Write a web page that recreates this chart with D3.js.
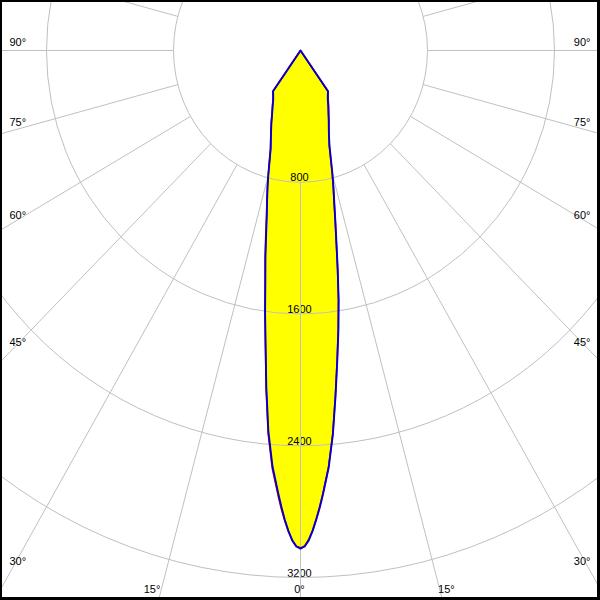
<!DOCTYPE html>
<html>
<head>
<meta charset="utf-8">
<script src="https://cdn.jsdelivr.net/npm/d3@7/dist/d3.min.js"></script>
<style>
html,body{margin:0;padding:0;background:#fff;}
svg{display:block;}
</style>
</head>
<body>
<script>
// ---- data (luminous intensity, cd) ----
const angles = [0,0.5,1,1.5,2,2.5,3,4,5,6,7,8,9,10,11,12,13,14,15,17.5,20,22.5,25,27.5,30,32.5,35,37.5,45,60,75,90,105,120,135,150,165,180];
// C0-C180 plane (blue): right half = C0, left half = C180
const c0   = [3025,3012,2975,2918,2850,2778,2700,2540,2340,2110,1900,1715,1535,1350,1185,1055,945,858,778,606,522,465,416,378,344,320,302,0,0,0,0,0,0,0,0,0,0,0];
const c180 = [3025,3012,2975,2918,2850,2772,2690,2531,2322,2060,1805,1603,1416,1272,1134,1020,936,859,784,625,544,480,423,380,344,320,302,0,0,0,0,0,0,0,0,0,0,0];
// C90-C270 plane (red)
const c90  = [3020,3008,2970,2914,2845,2773,2695,2535,2335,2105,1895,1710,1530,1345,1180,1050,940,853,773,603,522,468,420,384,350,324,302,0,0,0,0,0,0,0,0,0,0,0];
const c270 = [3020,3010,2975,2920,2856,2784,2704,2545,2335,2068,1810,1610,1425,1284,1148,1030,940,862,786,628,546,482,425,382,346,322,302,0,0,0,0,0,0,0,0,0,0,0];

const ringValues = [800,1600,2400,3200];
const ringLabels = ["800","1600","2400","3200"];
const spokeAngles = d3.range(0,360,15);
const angleTicks = [-90,-75,-60,-45,-30,-15,0,15,30,45,60,75,90];
const angleTickLabels = angleTicks.map(a => Math.abs(a) + "°");

// ---- layout ----
const W = 600, H = 600;
const cx = 300.5, cy = 50.5;
const rX = d3.scaleLinear().domain([0,3200]).range([0,508]);
const rY = d3.scaleLinear().domain([0,3200]).range([0,527]);
const rad = d => d*Math.PI/180;
const px = (a,v) => cx + rX(v)*Math.sin(rad(a));
const py = (a,v) => cy + rY(v)*Math.cos(rad(a));

const svg = d3.select("body").append("svg").attr("width",W).attr("height",H);
svg.append("rect").attr("width",W).attr("height",H).attr("fill","#000");
svg.append("rect").attr("x",2).attr("y",2).attr("width",595).attr("height",595).attr("fill","#fff");
svg.append("defs").append("clipPath").attr("id","clip")
  .append("rect").attr("x",2).attr("y",2).attr("width",595).attr("height",595);
const g = svg.append("g").attr("clip-path","url(#clip)");

function curvePoints(rightVals,leftVals){
  const pts = [];
  for(let i=angles.length-1;i>=0;i--) pts.push([px(-angles[i],leftVals[i]), py(-angles[i],leftVals[i])]);
  for(let i=1;i<angles.length;i++) pts.push([px(angles[i],rightVals[i]), py(angles[i],rightVals[i])]);
  return pts;
}
const line = d3.line().curve(d3.curveLinear);
const redPts = curvePoints(c90,c270);
const bluePts = curvePoints(c0,c180);

// fill
g.append("path").attr("d", line(redPts)+"Z").attr("fill","#ffff00").attr("stroke","none");
g.append("path").attr("d", line(bluePts)+"Z").attr("fill","#ffff00").attr("stroke","none");

const font = "'Liberation Sans', Arial, sans-serif";
// ring value labels
g.selectAll("text.ring").data(ringValues).join("text")
  .attr("class","ring")
  .attr("x", cx-1).attr("y", d => cy + rY(d) - 1)
  .attr("text-anchor","middle")
  .attr("font-family",font).attr("font-size","11px").attr("fill","#000")
  .text((d,i)=>ringLabels[i]);

// grid
const grid = "#c0c0c0";
g.selectAll("ellipse.ring").data(ringValues).join("ellipse")
  .attr("class","ring")
  .attr("cx",cx).attr("cy",cy)
  .attr("rx",d=>rX(d)).attr("ry",d=>rY(d))
  .attr("fill","none").attr("stroke",grid).attr("stroke-width",1);
g.selectAll("line.spoke").data(spokeAngles).join("line")
  .attr("class","spoke")
  .attr("x1",a=>px(a,ringValues[0])).attr("y1",a=>py(a,ringValues[0]))
  .attr("x2",a=>px(a,8000)).attr("y2",a=>py(a,8000))
  .attr("stroke",grid).attr("stroke-width",1);

// curves
g.append("path").attr("d", line(redPts)+"Z").attr("fill","none")
  .attr("stroke","#e00000").attr("stroke-width",1.6).attr("stroke-linejoin","round");
g.append("path").attr("d", line(bluePts)+"Z").attr("fill","none")
  .attr("stroke","#0000d0").attr("stroke-width",1.9).attr("stroke-linejoin","round");

// angle labels
const kx = rX(1), ky = rY(1);
function yAtX(a,x){ const t=(x-cx)/(kx*Math.sin(rad(a))); return cy + t*ky*Math.cos(rad(a)); }
function xAtY(a,y){ const t=(y-cy)/(ky*Math.cos(rad(a))); return cx + t*kx*Math.sin(rad(a)); }
angleTicks.forEach((a,i)=>{
  let x,y,anchor;
  if(Math.abs(a)>=30){
    if(a<0){ x=9.5; y=yAtX(a,11.5)-4.5; anchor="start"; }
    else { x=590.5; y=yAtX(a,589.5)-4.5; anchor="end"; }
  } else {
    y=593;
    if(a<0){ x=xAtY(a,y); anchor="end"; }
    else if(a>0){ x=xAtY(a,y)-2.5; anchor="start"; }
    else { x=cx-1; anchor="middle"; }
  }
  svg.append("text").attr("x",x).attr("y",y).attr("text-anchor",anchor)
    .attr("font-family",font).attr("font-size","11px").attr("fill","#000")
    .text(angleTickLabels[i]);
});
</script>
</body>
</html>
